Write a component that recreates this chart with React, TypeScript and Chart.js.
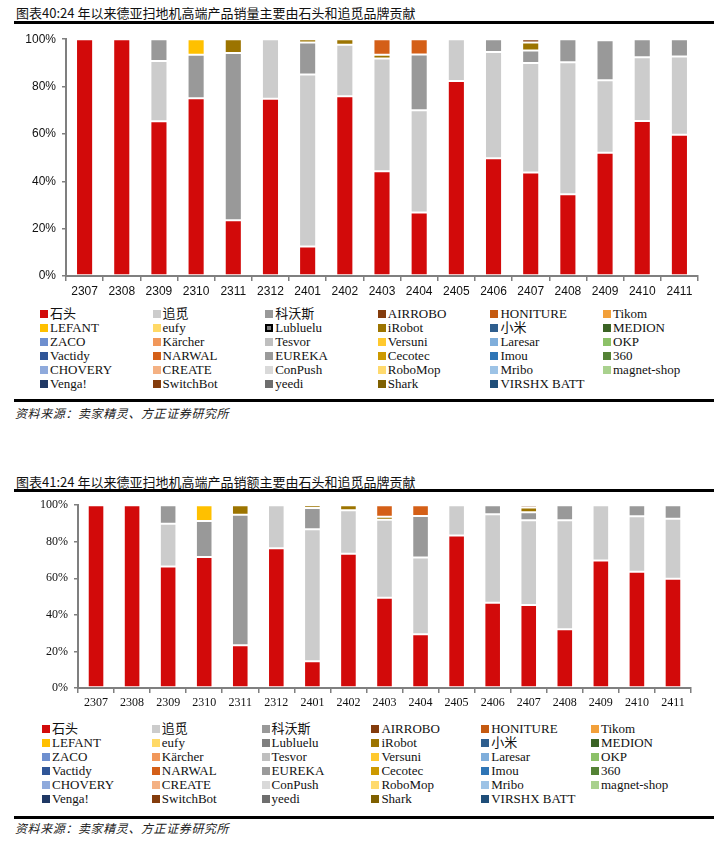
import React, { useEffect, useRef } from 'react';
import { Chart, registerables } from 'chart.js';

Chart.register(...registerables);

const CATEGORIES = ['2307', '2308', '2309', '2310', '2311', '2312', '2401', '2402', '2403', '2404', '2405', '2406', '2407', '2408', '2409', '2410', '2411'];

const BRANDS = [
  '石头', '追觅', '科沃斯', 'AIRROBO', 'HONITURE', 'Tikom',
  'LEFANT', 'eufy', 'Lubluelu', 'iRobot', '小米', 'MEDION',
  'ZACO', 'Kärcher', 'Tesvor', 'Versuni', 'Laresar', 'OKP',
  'Vactidy', 'NARWAL', 'EUREKA', 'Cecotec', 'Imou', '360',
  'CHOVERY', 'CREATE', 'ConPush', 'RoboMop', 'Mribo', 'magnet-shop',
  'Venga!', 'SwitchBot', 'yeedi', 'Shark', 'VIRSHX BATT',
];

const BRAND_COLORS = [
  '#D20A0A', '#CCCCCC', '#999999', '#843C0C', '#C55A11', '#F2A03A',
  '#FFC000', '#FFD966', '#7F7F7F', '#9C7400', '#2E5E8E', '#3B6325',
  '#6E8FCF', '#F1975A', '#BFBFBF', '#FFC92E', '#7FAEDB', '#8CC168',
  '#2F5597', '#D45F17', '#9A9A9A', '#CC9900', '#2E75B6', '#548235',
  '#8FAADC', '#F4B183', '#D9D9D9', '#FFDA6E', '#9DC3E6', '#A9D18E',
  '#1F3864', '#843C0C', '#6E6E6E', '#7F6000', '#1F4E79',
];

// 图表40：销量占比 (%)
const VOL_SHITOU = [100, 100, 65.4, 75.1, 23.5, 74.8, 12.5, 75.9, 44.2, 26.8, 82.4, 49.7, 43.7, 34.5, 52.0, 65.5, 59.6];
const VOL_ZHUIMI = [0, 0, 25.4, 0, 0, 25.2, 72.6, 21.8, 47.6, 43.2, 17.6, 44.9, 46.3, 55.8, 30.7, 26.9, 33.1];
const VOL_KEWOSI = [0, 0, 9.2, 18.3, 70.7, 0, 13.5, 0, 0, 23.5, 0, 5.4, 5.2, 9.7, 16.9, 7.6, 7.3];
const VOL_LEFANT = [0, 0, 0, 6.6, 0, 0, 0, 0, 0, 0, 0, 0, 0, 0, 0, 0, 0];
const VOL_IROBOT = [0, 0, 0, 0, 5.8, 0, 1.4, 2.3, 1.6, 0, 0, 0, 3.4, 0, 0.4, 0, 0];
const VOL_NARWAL = [0, 0, 0, 0, 0, 0, 0, 0, 6.6, 6.5, 0, 0, 0, 0, 0, 0, 0];
const VOL_SWITCHBOT = [0, 0, 0, 0, 0, 0, 0, 0, 0, 0, 0, 0, 1.4, 0, 0, 0, 0];

// 图表41：销额占比 (%)
const REV_SHITOU = [100, 100, 66.5, 71.7, 23.4, 76.4, 14.6, 73.5, 49.4, 29.4, 83.4, 46.7, 45.4, 32.1, 69.7, 63.6, 59.8];
const REV_ZHUIMI = [0, 0, 23.4, 0, 0, 23.6, 72.2, 23.8, 42.7, 42.0, 16.6, 48.4, 46.3, 59.6, 30.3, 30.3, 32.8];
const REV_KEWOSI = [0, 0, 10.1, 19.7, 71.4, 0, 11.6, 0, 0, 22.7, 0, 4.9, 4.5, 8.3, 0, 6.1, 7.4];
const REV_LEFANT = [0, 0, 0, 8.6, 0, 0, 0, 0, 0, 0, 0, 0, 0, 0, 0, 0, 0];
const REV_IROBOT = [0, 0, 0, 0, 5.2, 0, 1.6, 2.7, 1.6, 0, 0, 0, 2.5, 0, 0, 0, 0];
const REV_NARWAL = [0, 0, 0, 0, 0, 0, 0, 0, 6.3, 5.9, 0, 0, 0, 0, 0, 0, 0];
const REV_SWITCHBOT = [0, 0, 0, 0, 0, 0, 0, 0, 0, 0, 0, 0, 1.3, 0, 0, 0, 0];

const VOLUME_SERIES: Record<string, number[]> = {
  '石头': VOL_SHITOU, '追觅': VOL_ZHUIMI, '科沃斯': VOL_KEWOSI, 'LEFANT': VOL_LEFANT,
  'iRobot': VOL_IROBOT, 'NARWAL': VOL_NARWAL, 'SwitchBot': VOL_SWITCHBOT,
};
const REVENUE_SERIES: Record<string, number[]> = {
  '石头': REV_SHITOU, '追觅': REV_ZHUIMI, '科沃斯': REV_KEWOSI, 'LEFANT': REV_LEFANT,
  'iRobot': REV_IROBOT, 'NARWAL': REV_NARWAL, 'SwitchBot': REV_SWITCHBOT,
};

const AXIS = '#7f7f7f';

function buildDatasets(series: Record<string, number[]>) {
  return BRANDS.map((b, i) => ({ b, i }))
    .filter(({ b }) => !!series[b])
    .map(({ b, i }) => ({
      label: b,
      data: series[b].map((v) => (v === 0 ? null : v)),
      backgroundColor: BRAND_COLORS[i],
      borderColor: 'rgba(255,255,255,0.35)',
      borderWidth: 1,
      borderSkipped: false,
      barPercentage: 0.46,
      categoryPercentage: 1,
      stack: 's',
    }));
}

type ChartProps = {
  top: number; height: number; yWidth: number; padTop: number; padRight: number;
  series: Record<string, number[]>; font: any;
};

function StackedChart({ top, height, yWidth, padTop, padRight, series, font }: ChartProps) {
  const ref = useRef<HTMLCanvasElement>(null);
  useEffect(() => {
    const chart = new Chart(ref.current as HTMLCanvasElement, {
      type: 'bar',
      data: { labels: CATEGORIES, datasets: buildDatasets(series) as any },
      options: {
        animation: false,
        responsive: false,
        maintainAspectRatio: false,
        layout: { padding: { top: padTop, right: padRight, left: 0, bottom: 0 } },
        plugins: { legend: { display: false }, tooltip: { enabled: false } },
        scales: {
          x: {
            stacked: true,
            z: 1,
            grid: { display: true, drawOnChartArea: false, drawTicks: true, tickLength: 5, color: AXIS, lineWidth: 1.5, offset: true },
            border: { display: true, color: AXIS, width: 2 },
            ticks: { color: '#111', font, padding: 3, maxRotation: 0, autoSkip: false },
            afterFit: (s: any) => { s.height = 24; },
          },
          y: {
            stacked: true,
            min: 0,
            max: 100,
            z: 1,
            grid: { display: true, drawOnChartArea: false, drawTicks: true, tickLength: 4, color: AXIS, lineWidth: 1.5 },
            border: { display: true, color: AXIS, width: 2 },
            ticks: { stepSize: 20, color: '#111', font, padding: 6, callback: (v: any) => v + '%' },
            afterFit: (s: any) => { s.width = yWidth; },
          },
        },
      } as any,
    });
    return () => chart.destroy();
  }, []);
  return (
    <canvas
      ref={ref}
      width={724}
      height={height}
      style={{ position: 'absolute', left: 0, top, width: 724, height }}
    />
  );
}

function Legend({ top, left, colStep, rowStep, blackLubluelu }: { top: number; left: number; colStep: number; rowStep: number; blackLubluelu?: boolean }) {
  return (
    <>
      {BRANDS.map((b, i) => {
        const r = Math.floor(i / 6);
        const c = i % 6;
        const cy = top + r * rowStep;
        const x = left + c * colStep;
        const isLub = blackLubluelu && b === 'Lubluelu';
        return (
          <div key={b} style={{ position: 'absolute', left: x, top: cy - 8, height: 16, display: 'flex', alignItems: 'center', whiteSpace: 'nowrap' }}>
            <div
              style={{
                width: isLub ? 4 : 8,
                height: isLub ? 4 : 8,
                background: BRAND_COLORS[i],
                border: isLub ? '2px solid #000' : 'none',
                marginRight: 2,
              }}
            />
            <span style={{ fontFamily: "'Liberation Serif', 'Noto Sans CJK SC', serif", fontSize: 13, color: '#111', lineHeight: '16px' }}>{b}</span>
          </div>
        );
      })}
    </>
  );
}

const titleStyle: React.CSSProperties = {
  position: 'absolute', left: 16, fontFamily: "'Noto Sans CJK SC', 'Liberation Sans', sans-serif",
  fontSize: 13, lineHeight: '16px', color: '#111', whiteSpace: 'nowrap',
};
const sourceStyle: React.CSSProperties = {
  position: 'absolute', left: 15, fontFamily: "'Noto Sans CJK SC', serif", fontStyle: 'italic',
  fontSize: 12, lineHeight: '16px', color: '#222', letterSpacing: '0.6px', whiteSpace: 'nowrap',
};
const ruleStyle = (top: number): React.CSSProperties => ({
  position: 'absolute', left: 14, top, width: 700, height: 3, background: '#000',
});

export default function App() {
  const sansTick = { family: "'Liberation Sans', Arial, sans-serif", size: 12 };
  const serifTick = { family: "'Liberation Serif', 'Times New Roman', serif", size: 12 };
  return (
    <div style={{ position: 'absolute', left: 0, top: 0, width: 724, height: 844, background: '#fff', overflow: 'hidden' }}>
      <div style={{ ...titleStyle, top: 5 }}>图表40:24 年以来德亚扫地机高端产品销量主要由石头和追觅品牌贡献</div>
      <div style={ruleStyle(21)} />
      <StackedChart top={26} height={274} yWidth={66} padTop={13} padRight={26} series={VOLUME_SERIES} font={sansTick} />
      <Legend top={314} left={40} colStep={112.6} rowStep={14} blackLubluelu />
      <div style={ruleStyle(399)} />
      <div style={{ ...sourceStyle, top: 405 }}>资料来源：卖家精灵、方正证券研究所</div>

      <div style={{ ...titleStyle, top: 474 }}>图表41:24 年以来德亚扫地机高端产品销额主要由石头和追觅品牌贡献</div>
      <div style={ruleStyle(489)} />
      <StackedChart top={492} height={220} yWidth={78} padTop={11} padRight={33} series={REVENUE_SERIES} font={serifTick} />
      <Legend top={728.5} left={42} colStep={109.8} rowStep={14.1} />
      <div style={ruleStyle(816)} />
      <div style={{ ...sourceStyle, top: 820 }}>资料来源：卖家精灵、方正证券研究所</div>
    </div>
  );
}
